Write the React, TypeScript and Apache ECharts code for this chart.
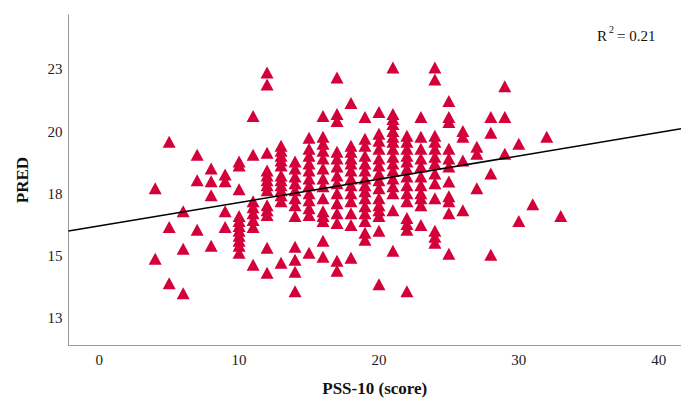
import React, { useEffect, useRef } from "react";
import * as echarts from "echarts";

// PSS-10 scores (x) and the PRED values observed at each score (y)
const pssScores = [4, 5, 6, 7, 8, 9, 10, 11, 12, 13, 14, 15, 16, 17, 18, 19, 20, 21, 22, 23, 24, 25, 26, 27, 28, 29, 30, 31, 32, 33];
const predByScore: number[][] = [
  [17.72, 14.89],
  [19.59, 16.17, 13.9],
  [16.8, 15.29, 13.5],
  [19.07, 18.04, 16.05],
  [18.52, 18.0, 17.44, 15.41],
  [18.28, 18.0, 16.8, 16.17],
  [18.8, 18.64, 17.68, 16.61, 16.41, 16.21, 16.01, 15.81, 15.61, 15.41, 15.13],
  [20.63, 19.07, 17.2, 16.96, 16.72, 16.45, 16.17, 14.65],
  [22.38, 21.9, 19.15, 18.44, 18.24, 18.04, 17.84, 17.64, 17.04, 16.84, 16.65, 15.33, 14.33],
  [19.43, 19.23, 19.03, 18.84, 18.64, 18.24, 18.04, 17.84, 17.64, 17.44, 17.2, 14.73],
  [18.8, 18.52, 18.2, 17.92, 17.64, 17.32, 17.04, 16.61, 15.37, 14.85, 14.37, 13.58],
  [19.75, 19.31, 19.03, 18.72, 18.44, 18.12, 17.84, 17.52, 17.24, 16.92, 16.65, 15.13],
  [20.63, 19.79, 19.51, 19.23, 18.92, 18.52, 18.12, 17.8, 17.32, 16.8, 16.61, 16.41, 15.61, 14.97],
  [22.18, 20.71, 20.43, 19.19, 18.92, 18.6, 18.24, 17.92, 17.52, 17.12, 16.72, 16.33, 14.81, 14.41],
  [21.15, 19.43, 19.19, 18.92, 18.72, 18.44, 18.12, 17.84, 17.52, 17.2, 16.72, 16.25, 14.93],
  [20.59, 19.71, 19.43, 19.03, 18.72, 18.44, 18.12, 17.84, 17.6, 17.32, 17.0, 16.72, 16.41, 15.93, 15.65],
  [20.79, 19.91, 19.63, 19.31, 18.92, 18.64, 18.32, 18.04, 17.72, 17.32, 17.04, 16.84, 16.61, 16.01, 13.86],
  [22.58, 20.71, 20.51, 20.31, 20.03, 19.79, 19.59, 19.31, 18.99, 18.72, 18.44, 18.12, 17.8, 17.52, 16.84, 15.21],
  [19.83, 19.59, 19.31, 19.03, 18.8, 18.52, 18.2, 17.84, 17.52, 17.2, 16.53, 16.29, 16.05, 13.58],
  [20.59, 19.79, 19.31, 18.92, 18.6, 18.2, 17.84, 17.52, 17.32, 17.04, 16.25],
  [22.58, 22.1, 19.83, 19.59, 19.31, 18.99, 18.72, 18.32, 17.92, 17.32, 16.01, 15.77, 15.53],
  [21.23, 20.59, 20.39, 19.31, 18.92, 18.6, 17.99, 17.4, 17.2, 16.72, 15.09],
  [20.03, 19.79, 18.84, 16.84],
  [19.39, 19.11, 17.72],
  [20.59, 19.95, 18.32, 15.05],
  [21.82, 20.59, 19.11],
  [19.51, 16.41],
  [17.08],
  [19.79],
  [16.61],
];

// fitted regression line
const fitIntercept = 16.21;
const fitSlope = 0.0938;
const rSquaredText = "= 0.21";

// axes
const xMin = -2.2;
const xMax = 41.6;
const yMin = 11.42;
const yMax = 24.69;
const xTickValues = [0, 10, 20, 30, 40];
const yTickValues = [12.5, 15, 17.5, 20, 22.5];
const yTickLabels = ["13", "15", "18", "20", "23"];

const SERIF = "'Liberation Serif', 'DejaVu Serif', serif";

export default function App() {
  const ref = useRef<HTMLDivElement>(null);

  useEffect(() => {
    if (!ref.current) return;
    const chart = echarts.init(ref.current, undefined, { renderer: "svg" });

    const points: number[][] = [];
    pssScores.forEach((s, i) => {
      predByScore[i].forEach((v) => points.push([s, v]));
    });

    const fitLine = [
      [xMin, fitIntercept + fitSlope * xMin],
      [xMax, fitIntercept + fitSlope * xMax],
    ];

    chart.setOption({
      animation: false,
      backgroundColor: "#ffffff",
      grid: { left: 68.5, right: 0, top: 15, bottom: 54, containLabel: false },
      xAxis: {
        type: "value",
        min: xMin,
        max: xMax,
        name: "PSS-10 (score)",
        nameLocation: "middle",
        nameGap: 35,
        nameTextStyle: { fontFamily: SERIF, fontSize: 17, fontWeight: "bold", color: "#111" },
        axisLine: { show: true, onZero: false, lineStyle: { color: "#9a9a9a", width: 1 } },
        axisTick: { show: false },
        splitLine: { show: false },
        axisLabel: {
          customValues: xTickValues,
          margin: 7,
          fontFamily: SERIF,
          fontSize: 15,
          color: "#222",
          showMinLabel: true,
          showMaxLabel: true,
        },
      },
      yAxis: {
        type: "value",
        min: yMin,
        max: yMax,
        name: "PRED",
        nameLocation: "middle",
        nameGap: 38,
        nameRotate: 90,
        nameTextStyle: { fontFamily: SERIF, fontSize: 17, fontWeight: "bold", color: "#111" },
        axisLine: { show: true, onZero: false, lineStyle: { color: "#9a9a9a", width: 1 } },
        axisTick: { show: false },
        splitLine: { show: false },
        axisLabel: {
          customValues: yTickValues,
          margin: 6,
          fontFamily: SERIF,
          fontSize: 15,
          color: "#222",
          formatter: (v: number) => {
            const idx = yTickValues.findIndex((t) => Math.abs(t - v) < 1e-6);
            return idx >= 0 ? yTickLabels[idx] : "";
          },
        },
      },
      series: [
        {
          type: "scatter",
          data: points,
          symbol: "triangle",
          symbolSize: [13, 12],
          itemStyle: { color: "#d4003a", opacity: 1 },
          z: 2,
        },
        {
          type: "line",
          data: fitLine,
          symbol: "none",
          lineStyle: { color: "#000", width: 1.5 },
          z: 3,
          clip: true,
        },
      ],
      graphic: [
        {
          type: "text",
          left: 597,
          top: 28,
          style: { text: "R", fontFamily: SERIF, fontSize: 15, fill: "#111" },
        },
        {
          type: "text",
          left: 609,
          top: 24,
          style: { text: "2", fontFamily: SERIF, fontSize: 10, fill: "#111" },
        },
        {
          type: "text",
          left: 617,
          top: 28,
          style: { text: rSquaredText, fontFamily: SERIF, fontSize: 15, fill: "#111" },
        },
      ],
    });

    return () => chart.dispose();
  }, []);

  return (
    <div
      ref={ref}
      style={{ position: "absolute", left: 0, top: 0, width: 681, height: 402 }}
    />
  );
}
